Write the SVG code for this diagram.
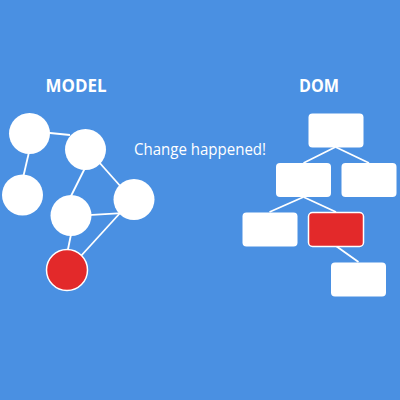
<svg xmlns="http://www.w3.org/2000/svg" width="400" height="400" viewBox="0 0 400 400">
<style>
.bg{fill:#4a90e2}
.title{font-family:"Open Sans","Noto Sans",sans-serif;font-weight:bold;font-size:18px;fill:#fff;text-anchor:middle}
.label{font-family:"Open Sans","Noto Sans",sans-serif;font-size:16px;fill:#fff}
.node{fill:#fff}
.hot{fill:#e3292a;stroke:#fff;stroke-width:1.5}
.edge{stroke:#fff;stroke-width:1.8;fill:none}
</style>
<rect class="bg" x="0" y="0" width="400" height="400"/>
<text class="title" x="76" y="92" textLength="61" lengthAdjust="spacingAndGlyphs">MODEL</text>
<text class="title" x="319" y="92" textLength="40" lengthAdjust="spacingAndGlyphs">DOM</text>
<text class="label" x="134" y="155" textLength="132" lengthAdjust="spacingAndGlyphs">Change happened!</text>
<g id="connectors">
<line class="edge" x1="45" y1="132.5" x2="70" y2="135"/>
<line class="edge" x1="29.5" y1="150" x2="22.5" y2="180"/>
<line class="edge" x1="86" y1="166" x2="70" y2="198"/>
<line class="edge" x1="98" y1="161" x2="122" y2="188"/>
<line class="edge" x1="88" y1="215.2" x2="122" y2="213.2"/>
<line class="edge" x1="71.5" y1="232" x2="67" y2="254"/>
<line class="edge" x1="121" y1="212" x2="80" y2="257"/>
<line class="edge" x1="335.5" y1="147" x2="303.5" y2="163"/>
<line class="edge" x1="335.5" y1="147" x2="369" y2="163"/>
<line class="edge" x1="303.5" y1="197" x2="269.5" y2="212"/>
<line class="edge" x1="303.5" y1="197" x2="336" y2="212"/>
<line class="edge" x1="336" y1="246" x2="358.5" y2="262"/>
</g>
<g id="m1"><circle class="node" cx="29.5" cy="133.5" r="20.5"/></g>
<g id="m2"><circle class="node" cx="85.5" cy="149.5" r="20.5"/></g>
<g id="m3"><circle class="node" cx="22.5" cy="195" r="20.5"/></g>
<g id="m4"><circle class="node" cx="71" cy="215.5" r="20.5"/></g>
<g id="m5"><circle class="node" cx="134" cy="199.5" r="20.5"/></g>
<g id="m6"><circle class="hot" cx="67" cy="270" r="20.5"/></g>
<g id="d1"><rect class="node" x="308.5" y="113.5" width="55" height="34" rx="4"/></g>
<g id="d2"><rect class="node" x="276" y="163" width="55" height="34" rx="4"/></g>
<g id="d3"><rect class="node" x="341.5" y="163" width="55" height="34" rx="4"/></g>
<g id="d4"><rect class="node" x="242.5" y="212.5" width="55" height="34" rx="4"/></g>
<g id="d5"><rect class="hot" x="308.5" y="212.5" width="55" height="34" rx="4"/></g>
<g id="d6"><rect class="node" x="331" y="262.5" width="55" height="34" rx="4"/></g>
</svg>
